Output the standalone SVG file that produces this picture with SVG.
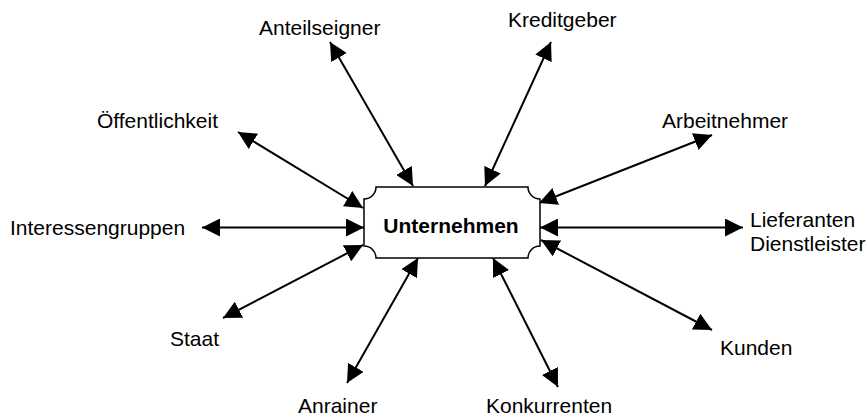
<svg xmlns="http://www.w3.org/2000/svg" width="867" height="416" viewBox="0 0 867 416">
  <style>
    .lbl { font-family: "Liberation Sans", Arial, sans-serif; font-size: 21px; fill: #000; }
    .core { font-family: "Liberation Sans", Arial, sans-serif; font-size: 21px; font-weight: bold; fill: #000; }
    .link { stroke: #000; stroke-width: 2; fill: none; marker-start: url(#head); marker-end: url(#head); }
    .plaque { fill: #fff; stroke: #000; stroke-width: 1.5; }
  </style>
  <defs>
    <marker id="head" markerUnits="userSpaceOnUse" markerWidth="18" markerHeight="18" viewBox="0 0 18 18" refX="18" refY="9" orient="auto-start-reverse">
      <path d="M0,0 L18,9 L0,18 Z" fill="#000"/>
    </marker>
  </defs>
  <rect width="867" height="416" fill="#fff"/>

  <!-- double-headed connectors between the company and its stakeholders -->
  <g id="connectors">
    <line class="link" x1="202" y1="227.5" x2="364" y2="227.5"/>
    <line class="link" x1="223" y1="318" x2="363" y2="245"/>
    <line class="link" x1="238" y1="132" x2="363" y2="208"/>
    <line class="link" x1="330" y1="42" x2="413" y2="186"/>
    <line class="link" x1="551" y1="42" x2="485" y2="186"/>
    <line class="link" x1="712" y1="135" x2="539" y2="203"/>
    <line class="link" x1="540" y1="227.5" x2="743" y2="227.5"/>
    <line class="link" x1="541" y1="240" x2="712" y2="330"/>
    <line class="link" x1="493" y1="258" x2="558" y2="387"/>
    <line class="link" x1="418" y1="258" x2="347" y2="383"/>
  </g>

  <!-- central plaque -->
  <g id="unternehmen">
    <path class="plaque" d="M376,187 H528 A12,12 0 0 0 540,199 V246 A12,12 0 0 0 528,258 H376 A12,12 0 0 0 364,246 V199 A12,12 0 0 0 376,187 Z"/>
    <text class="core" x="451" y="233" text-anchor="middle">Unternehmen</text>
  </g>

  <g id="anteilseigner"><text class="lbl" x="259" y="35">Anteilseigner</text></g>
  <g id="kreditgeber"><text class="lbl" x="508" y="26.5">Kreditgeber</text></g>
  <g id="oeffentlichkeit"><text class="lbl" x="97" y="128.3">Öffentlichkeit</text></g>
  <g id="arbeitnehmer"><text class="lbl" x="662" y="128.3">Arbeitnehmer</text></g>
  <g id="interessengruppen"><text class="lbl" x="10" y="235">Interessengruppen</text></g>
  <g id="lieferanten"><text class="lbl" x="750" y="226.5">Lieferanten<tspan x="750" y="250.5">Dienstleister</tspan></text></g>
  <g id="staat"><text class="lbl" x="170" y="345.7">Staat</text></g>
  <g id="kunden"><text class="lbl" x="720" y="355">Kunden</text></g>
  <g id="anrainer"><text class="lbl" x="298" y="413.3">Anrainer</text></g>
  <g id="konkurrenten"><text class="lbl" x="486" y="413.3">Konkurrenten</text></g>
</svg>
